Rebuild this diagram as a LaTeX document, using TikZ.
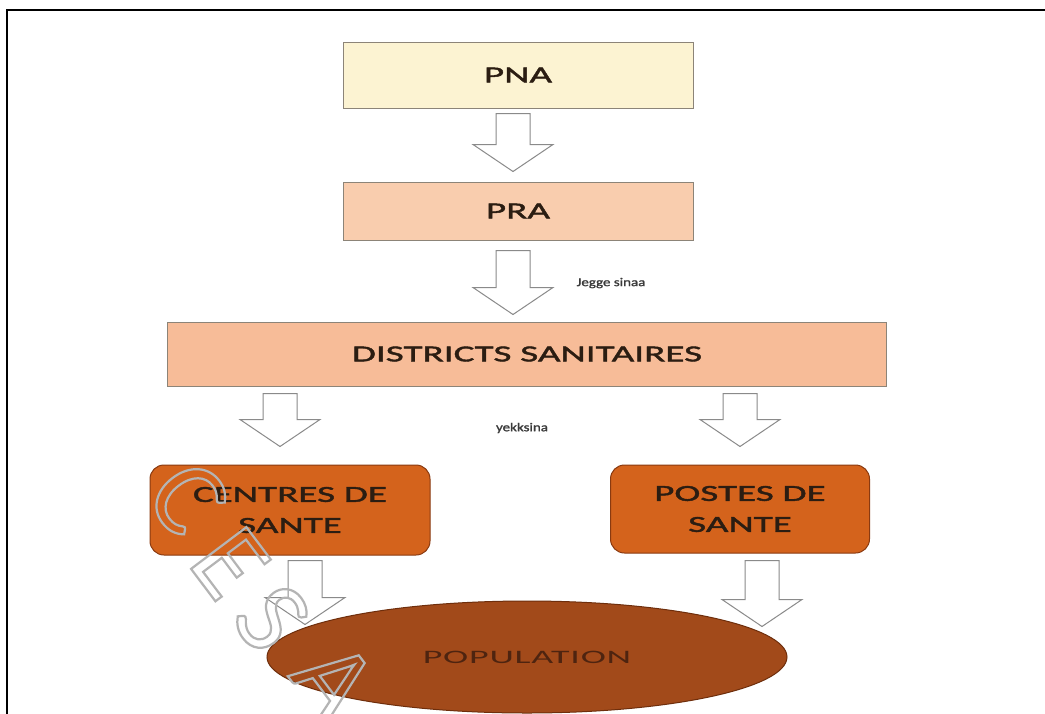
\documentclass[tikz,border=0pt]{standalone}
\usepackage{fontspec}
\setmainfont{Carlito}[FakeStretch=1.7,FakeBold=1.8]
\newfontfamily\popfont{Carlito}[FakeStretch=2.0,LetterSpace=4]
\newfontfamily\labelfont{Carlito}[FakeStretch=1.25,FakeBold=1.5]
\newfontfamily\markfont{Carlito}
\usetikzlibrary{calc,shapes.geometric}

\definecolor{pnafill}{HTML}{FCF3D2}
\definecolor{prafill}{HTML}{F9CDAE}
\definecolor{distfill}{HTML}{F7BC98}
\definecolor{santefill}{HTML}{D4631C}
\definecolor{santeedge}{HTML}{8A3A10}
\definecolor{popfill}{HTML}{A24A1A}
\definecolor{popedge}{HTML}{6E2E0C}
\definecolor{boxedge}{HTML}{8C8478}
\definecolor{boxtext}{HTML}{2B1D12}
\definecolor{poptext}{HTML}{4E2410}
\definecolor{arrowgray}{HTML}{8A8A8A}
\definecolor{labeltext}{HTML}{3A3A3A}
\definecolor{markgray}{HTML}{B4B4B4}

% outlined glyphs for the stamp letters
\newcommand{\outlined}[1]{\special{pdf:literal direct 1 Tr 2.2 w}#1\special{pdf:literal direct 0 Tr}}

\tikzset{
  flatbox/.style={draw=boxedge, line width=1pt, rectangle, text=boxtext,
    font=\fontsize{23}{27}\selectfont},
  santebox/.style={draw=santeedge, line width=1pt, rectangle, rounded corners=14pt,
    fill=santefill, text=boxtext, align=center,
    font=\fontsize{23}{31}\selectfont},
  lbl/.style={text=labeltext, font=\labelfont\fontsize{12}{14}\selectfont, inner sep=0pt},
  stamp/.style={text=markgray, rotate=-53, inner sep=0pt,
    font=\markfont\fontsize{108}{108}\selectfont},
  barrow/.style={draw=arrowgray, fill=white, line width=1pt, line join=miter,
    to path={let \p1=(\tikztostart), \p2=(\tikztotarget) in
      (\x1-17pt,\y1) -- (\x1+17pt,\y1) -- (\x1+17pt,\y2+27pt) -- (\x1+40pt,\y2+27pt)
      -- (\x1,\y2) -- (\x1-40pt,\y2+27pt) -- (\x1-17pt,\y2+27pt) -- cycle}}
}

\begin{document}
\begin{tikzpicture}[x=1pt,y=-1pt]
\useasboundingbox (0,0) rectangle (1045,713);
\clip (0,0) rectangle (1045,713);
\fill[white] (0,0) rectangle (1045,713);

% page frame
\draw[line width=2pt] (7,760) -- (7,10) -- (1100,10);

% hierarchy
\node[flatbox, fill=pnafill, minimum width=350pt, minimum height=66pt] (pna) at (518,75) {PNA};
\node[flatbox, fill=prafill, minimum width=350pt, minimum height=58pt] (pra) at (518,211) {PRA};
\node[flatbox, fill=distfill, minimum width=719pt, minimum height=64pt] (districts) at (527,354) {DISTRICTS SANITAIRES};
\node[santebox, minimum width=280pt, minimum height=90pt] (centres) at (290,510) {CENTRES DE\\SANTE};
\node[santebox, minimum width=259pt, minimum height=88pt] (postes) at (740,509) {POSTES DE\\SANTE};
\node[ellipse, draw=popedge, line width=1pt, fill=popfill, text=poptext,
  minimum width=520pt, minimum height=112pt, inner sep=0pt,
  font=\popfont\fontsize{19}{23}\selectfont] (population) at (527,657) {POPULATION};

% block arrows
\draw[barrow] ([xshift=-5pt,yshift=-5pt]pna.south) to ([xshift=-5pt,yshift=10pt]pra.north);
\draw[barrow] ([xshift=-5pt,yshift=-10pt]pra.south) to ([xshift=-5pt,yshift=7pt]districts.north);
\draw[barrow] ($(districts.south -| centres.north)+(-10,7)$) to ([yshift=18pt]centres.north);
\draw[barrow] ($(districts.south -| postes.north)+(0,7)$) to ([yshift=18pt]postes.north);
\draw[barrow] ($(centres.south)+(15,5)$) to ($(population.north)+(0,24)$);
\draw[barrow] ($(postes.south)+(22,7)$) to ($(population.north)+(0,26)$);

% arrow labels
\node[lbl] (jegge) at (611,283) {Jegge sinaa};
\node[lbl] (yekk) at (522,428) {yekksina};

% stamp letters
\node[stamp] (s1) at (188,498) {\outlined{C}};
\node[stamp] (s2) at (230,563) {\outlined{E}};
\node[stamp] (s3) at (272,618) {\outlined{S}};
\node[stamp] (s4) at (334,680) {\outlined{A}};
\end{tikzpicture}
\end{document}
